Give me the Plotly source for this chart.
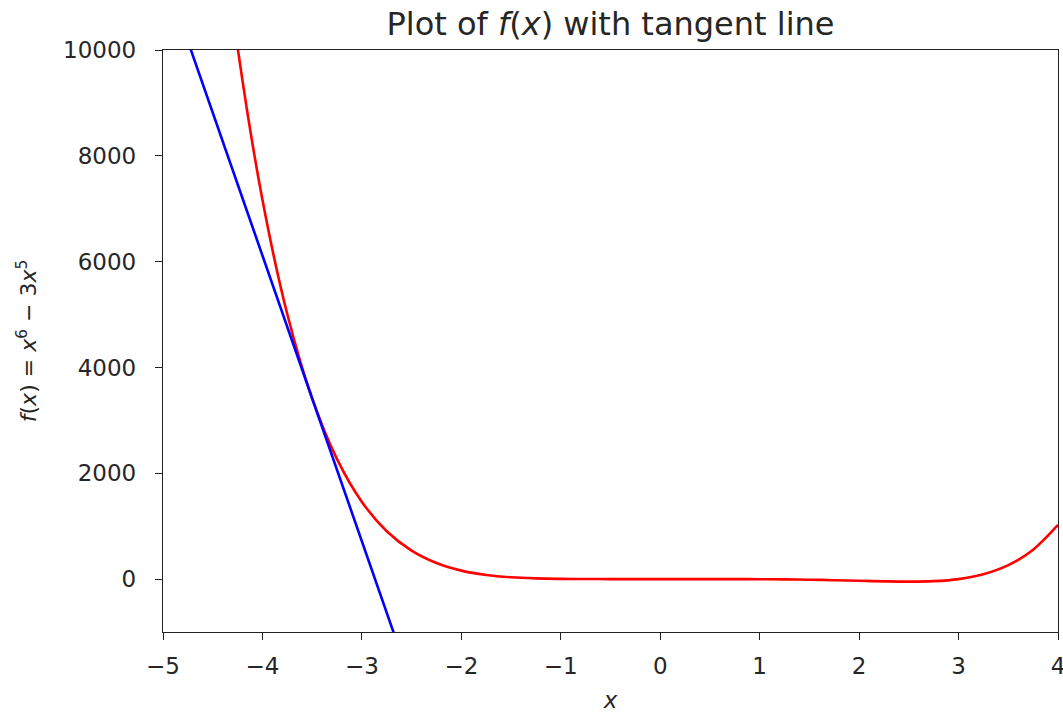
import plotly.graph_objects as go

x_vals = [-4.5, -4.25, -4.0, -3.75, -3.5, -3.25, -3.0, -2.75, -2.5, -2.25, -2.0,
          -1.75, -1.5, -1.25, -1.0, -0.75, -0.5, -0.25, 0.0, 0.25, 0.5, 0.75,
          1.0, 1.25, 1.5, 1.75, 2.0, 2.25, 2.5, 2.75, 3.0, 3.25, 3.5, 3.75, 4.0]
f_vals = [13839.6, 10052.7, 7168.0, 5005.6, 3413.9, 2266.2, 1458.0, 904.3, 537.1,
          302.7, 160.0, 78.0, 34.2, 13.0, 4.0, 0.89, 0.11, 0.003, 0.0, -0.003,
          -0.078, -0.53, -2.0, -5.35, -11.4, -20.5, -32.0, -43.3, -48.8, -39.3,
          0.0, 90.7, 262.6, 556.2, 1024.0]

# tangent line endpoints
tan_x = [-5.0, -2.5]
tan_y = [11517.0, -1988.0]

x_ticks = [-5, -4, -3, -2, -1, 0, 1, 2, 3, 4]
y_ticks = [0, 2000, 4000, 6000, 8000, 10000]

font = "DejaVu Sans"
axis_col = "#222222"
txt_col = "#262626"

W, H = 1063, 715
L, R, T, B = 163, 5, 50, 83

fig = go.Figure()
fig.add_trace(go.Scatter(x=x_vals, y=f_vals, mode="lines",
                         line=dict(color="red", width=2.6, shape="spline", smoothing=1.0),
                         showlegend=False))
fig.add_trace(go.Scatter(x=tan_x, y=tan_y, mode="lines",
                         line=dict(color="blue", width=2.6), showlegend=False))

fig.update_layout(
    width=W, height=H,
    margin=dict(l=L, r=R, t=T, b=B, autoexpand=False),
    paper_bgcolor="white", plot_bgcolor="white",
    font=dict(family=font, size=23, color=txt_col),
    title=dict(text="Plot of <i>f</i>(<i>x</i>) with tangent line",
               x=((L + W - R) / 2) / W, xanchor="center",
               y=1 - 24 / H, yanchor="middle",
               font=dict(family=font, size=32, color=txt_col)),
)
fig.update_xaxes(range=[-5, 4], tickvals=x_ticks, showgrid=False, zeroline=False,
                 automargin=False, ticklabeloverflow="allow",
                 showline=True, linecolor=axis_col, linewidth=1.3, mirror=True,
                 ticks="outside", ticklen=7, tickwidth=1.3, tickcolor=axis_col,
                 tickfont=dict(size=23), ticklabelstandoff=6,
                 title=dict(text="<i>x</i>", font=dict(size=23), standoff=14))
fig.update_yaxes(range=[-1000, 10000], tickvals=y_ticks, tickformat="d",
                 showgrid=False, zeroline=False, automargin=False,
                 showline=True, linecolor=axis_col, linewidth=1.3, mirror=True,
                 ticks="outside", ticklen=7, tickwidth=1.3, tickcolor=axis_col,
                 tickfont=dict(size=23), ticklabelstandoff=14,
                 title=dict(text="<i>f</i>(<i>x</i>) = <i>x</i><sup>6</sup> − 3<i>x</i><sup>5</sup>",
                            font=dict(size=22), standoff=20))

fig.write_html("out.html", config={"displayModeBar": False},
               post_script="document.body.style.margin='0';document.body.style.overflow='hidden';")
